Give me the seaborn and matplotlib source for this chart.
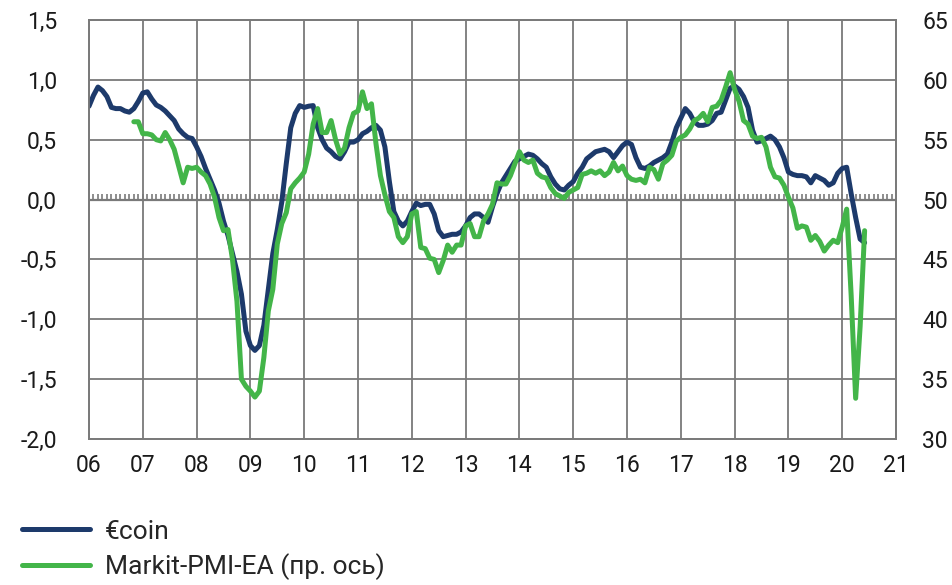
import numpy as np
import pandas as pd
import matplotlib
matplotlib.use("Agg")
import matplotlib.pyplot as plt
import seaborn as sns
from matplotlib.lines import Line2D

# ---------------- data ----------------
ecoin_start = "2006-01"
ecoin = [
    # 2006
    0.78, 0.87, 0.94, 0.91, 0.86, 0.77, 0.76, 0.76, 0.74, 0.73, 0.76, 0.82,
    # 2007
    0.89, 0.90, 0.84, 0.79, 0.77, 0.74, 0.70, 0.66, 0.59, 0.55, 0.52, 0.51,
    # 2008
    0.44, 0.36, 0.26, 0.17, 0.08, -0.03, -0.18, -0.30, -0.45, -0.60, -0.79, -1.10,
    # 2009
    -1.22, -1.26, -1.22, -1.05, -0.75, -0.45, -0.25, -0.02, 0.30, 0.60, 0.72, 0.785,
    # 2010
    0.77, 0.78, 0.785, 0.60, 0.50, 0.43, 0.40, 0.36, 0.34, 0.40, 0.48, 0.48,
    # 2011
    0.50, 0.55, 0.57, 0.60, 0.62, 0.58, 0.44, 0.15, -0.10, -0.18, -0.22, -0.18,
    # 2012
    -0.10, -0.03, -0.05, -0.04, -0.04, -0.12, -0.26, -0.31, -0.30, -0.29, -0.29, -0.27,
    # 2013
    -0.22, -0.15, -0.12, -0.12, -0.15, -0.19, -0.06, 0.05, 0.14, 0.20, 0.26, 0.32,
    # 2014
    0.34, 0.36, 0.38, 0.37, 0.34, 0.30, 0.27, 0.19, 0.13, 0.09, 0.08, 0.12,
    # 2015
    0.15, 0.22, 0.27, 0.34, 0.37, 0.40, 0.41, 0.42, 0.40, 0.35, 0.40, 0.45,
    # 2016
    0.48, 0.46, 0.35, 0.27, 0.26, 0.28, 0.31, 0.33, 0.35, 0.38, 0.48, 0.60,
    # 2017
    0.68, 0.76, 0.72, 0.65, 0.62, 0.62, 0.63, 0.66, 0.72, 0.73, 0.83, 0.93,
    # 2018
    0.95, 0.92, 0.86, 0.77, 0.58, 0.48, 0.49, 0.51, 0.53, 0.50, 0.44, 0.35,
    # 2019
    0.23, 0.21, 0.20, 0.20, 0.19, 0.14, 0.20, 0.18, 0.16, 0.12, 0.14, 0.22,
    # 2020
    0.26, 0.27, 0.05, -0.15, -0.33, -0.36,
]

pmi_start = "2006-11"
pmi = [
    # 2006 (Nov, Dec)
    56.5, 56.5,
    # 2007
    55.5, 55.5, 55.4, 55.0, 54.9, 55.6, 55.0, 54.2, 52.8, 51.4, 52.7, 52.6,
    # 2008
    52.7, 52.3, 52.0, 51.3, 50.2, 48.5, 47.4, 47.5, 45.0, 41.5, 35.0, 34.4,
    # 2009
    34.0, 33.5, 34.0, 36.8, 40.7, 42.5, 46.3, 48.0, 48.9, 50.9, 51.4, 51.8,
    # 2010
    52.3, 53.8, 56.3, 57.6, 55.6, 55.6, 56.6, 55.0, 53.8, 54.3, 56.0, 57.2,
    # 2011
    57.4, 59.0, 57.6, 58.0, 54.7, 52.0, 50.4, 49.0, 48.5, 46.9, 46.4, 46.9,
    # 2012
    48.8, 49.0, 46.0, 45.9, 45.1, 45.0, 43.9, 44.9, 46.2, 45.6, 46.2, 46.2,
    # 2013
    47.8, 48.0, 46.9, 46.9, 48.2, 48.8, 49.6, 51.4, 51.3, 51.3, 52.0, 53.0,
    # 2014
    54.0, 53.3, 53.1, 53.3, 52.2, 51.9, 51.8, 51.0, 50.5, 50.3, 50.1, 50.6,
    # 2015
    50.8, 51.0, 52.1, 52.2, 52.4, 52.2, 52.4, 52.0, 52.3, 53.1, 52.4, 52.8,
    # 2016
    52.0, 51.7, 51.6, 51.7, 51.4, 52.7, 52.5, 51.7, 53.0, 53.3, 53.7, 54.9,
    # 2017
    55.2, 55.4, 55.9, 56.6, 56.8, 57.2, 56.5, 57.7, 57.8, 58.3, 59.4, 60.6,
    # 2018
    59.2, 58.2, 56.6, 56.3, 55.3, 55.1, 55.2, 54.4, 52.7, 51.9, 51.8, 51.2,
    # 2019
    50.2, 49.3, 47.6, 47.8, 47.7, 46.6, 47.0, 46.5, 45.7, 46.2, 46.6, 46.4,
    # 2020
    47.7, 49.2, 42.0, 33.4, 39.4, 47.4,
]

x_years = list(range(2006, 2022))
x_labels = ["06", "07", "08", "09", "10", "11", "12", "13", "14", "15",
            "16", "17", "18", "19", "20", "21"]
y_left_ticks = [-2.0, -1.5, -1.0, -0.5, 0.0, 0.5, 1.0, 1.5]
y_right_ticks = [30, 35, 40, 45, 50, 55, 60, 65]
series_names = ["€coin", "Markit-PMI-EA (пр. ось)"]

# ---------------- frames ----------------
def to_frac_year(start, n):
    idx = pd.period_range(start=start, periods=n, freq="M")
    return idx.year + (idx.month - 1) / 12.0

df_e = pd.DataFrame({"t": to_frac_year(ecoin_start, len(ecoin)), "v": ecoin})
df_p = pd.DataFrame({"t": to_frac_year(pmi_start, len(pmi)), "v": pmi})

# ---------------- style ----------------
sns.set_theme(style="white")
plt.rcParams["font.family"] = ["Roboto", "DejaVu Sans"]

NAVY = "#1d3a6b"
GREEN = "#43b549"
GRID = "#7a7a7a"

fig = plt.figure(figsize=(9.52, 5.85), dpi=100)
ax = fig.add_axes([89 / 952, 1 - 439 / 585, (896 - 89) / 952, (439 - 20) / 585])
ax2 = ax.twinx()

ax.set_xlim(2006, 2021)
ax.set_ylim(-2.0, 1.5)
ax2.set_ylim(30, 65)

ax.set_xticks(x_years)
ax.set_xticklabels(x_labels)
ax.set_yticks(y_left_ticks)
ax.set_yticklabels([f"{v:.1f}".replace(".", ",") for v in y_left_ticks])
ax2.set_yticks(y_right_ticks)
ax2.set_yticklabels([str(v) for v in y_right_ticks])

ax.grid(True, color=GRID, linewidth=1.3)
ax.set_axisbelow(True)
ax2.grid(False)

for a in (ax, ax2):
    for s in a.spines.values():
        s.set_color(GRID)
        s.set_linewidth(1.3)

ax.tick_params(axis="x", length=0, pad=11, labelsize=16.5, colors="#1a1a1a")
ax.tick_params(axis="y", length=0, pad=23, labelsize=16.5, colors="#1a1a1a")
ax2.tick_params(axis="y", length=0, pad=19, labelsize=16.5, colors="#1a1a1a")
for lab in ax.get_yticklabels():
    lab.set_horizontalalignment("right")

# zero line with monthly minor ticks
ax.axhline(0, color=GRID, linewidth=1.6, zorder=1)
months = np.arange(2006, 2021, 1 / 12.0)
ax.vlines(months, 0, 0.045, color=GRID, linewidth=1.2, zorder=1)

sns.lineplot(data=df_e, x="t", y="v", ax=ax, color=NAVY, linewidth=3.6, zorder=3)
sns.lineplot(data=df_p, x="t", y="v", ax=ax2, color=GREEN, linewidth=3.6, zorder=4)
ax2.set_zorder(ax.get_zorder() + 1)
ax2.patch.set_visible(False)

for a in (ax, ax2):
    a.set_xlabel("")
    a.set_ylabel("")

handles = [Line2D([0], [0], color=NAVY, linewidth=3.6, solid_capstyle="round"),
           Line2D([0], [0], color=GREEN, linewidth=3.6, solid_capstyle="round")]
fig.legend(handles, series_names, loc="lower left", bbox_to_anchor=(0.006, -0.019),
           frameon=False, fontsize=19, handlelength=2.6, handletextpad=0.55,
           labelspacing=0.37, borderaxespad=0.2)

fig.savefig("out.png", dpi=100)
